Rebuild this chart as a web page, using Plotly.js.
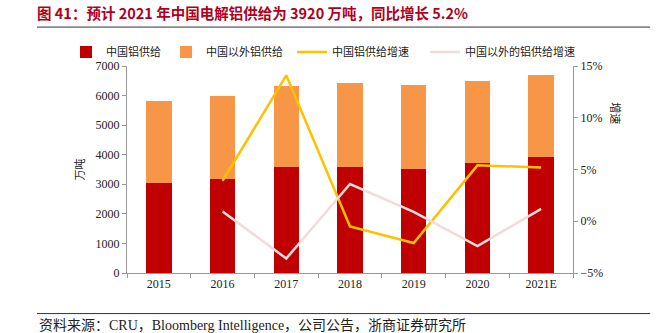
<!DOCTYPE html>
<html><head><meta charset="utf-8">
<script src="https://cdn.plot.ly/plotly-3.0.1.min.js"></script>
<style>body{margin:0;background:#fff}#c{width:665px;height:333px}</style>
</head><body><div id="c"></div>
<script>
const years = ['2015','2016','2017','2018','2019','2020','2021E'];
const chinaSupply = [3040, 3180, 3600, 3590, 3515, 3720, 3920];
const outsideSupply = [2790, 2810, 2730, 2830, 2845, 2770, 2790];
const chinaGrowth = [null, 3.9, 14.1, -0.5, -2.1, 5.4, 5.2];
const outsideGrowth = [null, 0.95, -3.6, 3.6, 0.9, -2.4, 1.2];

const cjk = '"Noto Sans CJK SC", sans-serif';
const serif = '"Liberation Serif", "Times New Roman", serif';
const mixed = '"Liberation Serif", "Noto Sans CJK SC", serif';

const traces = [
  {type:'bar', name:'中国铝供给', x:years, y:chinaSupply, marker:{color:'#C00000'}, width:0.4, legend:'legend'},
  {type:'bar', name:'中国以外铝供给', x:years, y:outsideSupply, marker:{color:'#F79646'}, width:0.4, legend:'legend'},
  {type:'scatter', mode:'lines', name:'中国铝供给增速', x:years, y:chinaGrowth, yaxis:'y2', line:{color:'#FFC000', width:2.5}, legend:'legend2'},
  {type:'scatter', mode:'lines', name:'中国以外的铝供给增速', x:years, y:outsideGrowth, yaxis:'y2', line:{color:'#F2DCDB', width:2.5}, legend:'legend3'}
];

const legStyle = {orientation:'h', xref:'container', yref:'container', xanchor:'left', y:1-52/333, yanchor:'middle', font:{family:cjk, size:11, color:'#222'}, itemwidth:30, traceorder:'normal', bgcolor:'rgba(0,0,0,0)'};

const layout = {
  width:665, height:333,
  margin:{l:127, r:92, t:66, b:60, autoexpand:false},
  paper_bgcolor:'#fff', plot_bgcolor:'#fff',
  barmode:'stack',
  showlegend:true,
  title:{text:'<b>图 41：预计 2021 年中国电解铝供给为 3920 万吨，同比增长 5.2%</b>', xref:'container', yref:'container', x:37/665, xanchor:'left', y:1-14/333, yanchor:'middle', font:{family:cjk, size:14.5, color:'#B0001E'}},
  legend:Object.assign({}, legStyle, {x:66/665}),
  legend2:Object.assign({}, legStyle, {x:292/665}),
  legend3:Object.assign({}, legStyle, {x:425/665}),
  xaxis:{type:'category', tickfont:{family:serif, size:12, color:'#222'}, showline:true, linecolor:'#999', ticks:'outside', tickson:'boundaries', ticklen:4, tickcolor:'#999', showgrid:false, zeroline:false},
  yaxis:{range:[0,7000], dtick:1000, tickfont:{family:serif, size:12, color:'#222'}, showline:true, linecolor:'#999', ticks:'outside', ticklen:4, tickcolor:'#999', showgrid:false, zeroline:false,
    title:{text:'万吨', font:{family:cjk, size:11, color:'#222'}, standoff:8}},
  yaxis2:{overlaying:'y', side:'right', range:[-5,15], dtick:5, ticksuffix:'%', tickfont:{family:serif, size:12, color:'#222'}, showline:true, linecolor:'#999', ticks:'outside', ticklen:4, tickcolor:'#999', showgrid:false, zeroline:false},
  annotations:[
    {xref:'paper', yref:'paper', x:1.118, y:0.836, showarrow:false, textangle:90,
     text:'增速', font:{family:cjk, size:11, color:'#222'}},
    {xref:'paper', yref:'paper', x:-0.2018, y:-0.254, xanchor:'left', yanchor:'middle', showarrow:false,
     text:'资料来源：CRU，Bloomberg Intelligence，公司公告，浙商证券研究所', font:{family:mixed, size:14, color:'#222'}}
  ],
  shapes:[
    {type:'line', xref:'paper', yref:'paper', x0:-0.2018, x1:1.173, y0:1.188, y1:1.188, line:{color:'#333', width:1}},
    {type:'line', xref:'paper', yref:'paper', x0:-0.2018, x1:1.173, y0:-0.196, y1:-0.196, line:{color:'#333', width:1}}
  ]
};
Plotly.newPlot('c', traces, layout, {displayModeBar:false, staticPlot:true});
</script></body></html>
